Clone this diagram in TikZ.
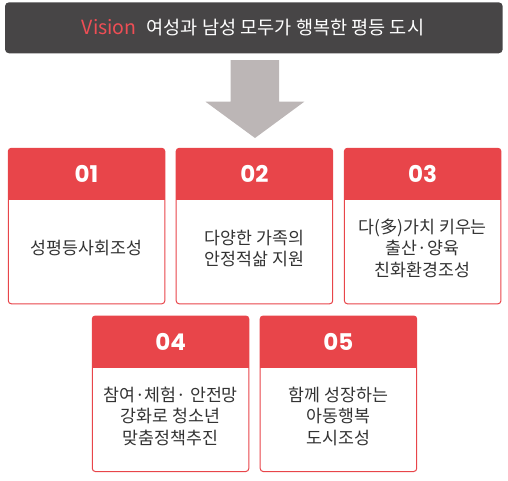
\documentclass[tikz,border=0pt]{standalone}
\usepackage{fontspec}
\setmainfont{Noto Sans CJK KR}
\newfontfamily\numfont{Poppins}
\definecolor{cardred}{HTML}{E8454A}
\definecolor{bannergray}{HTML}{474546}
\definecolor{arrowgray}{HTML}{BCB6B6}
\definecolor{textgray}{HTML}{333333}
\definecolor{visred}{HTML}{EE4E55}
\tikzset{
  banner/.style={fill=bannergray, rounded corners=4pt, inner sep=0pt, outer sep=0pt},
  card/.style={draw=cardred, line width=1pt, fill=white, rounded corners=3pt, inner sep=0pt, outer sep=0pt,
    anchor=north west, minimum width=156.5pt, minimum height=155.5pt},
  num/.style={text=white, font=\numfont\bfseries\fontsize{23}{23}\selectfont},
  body/.style={text=textgray, align=center, font=\fontsize{17.3}{21.5}\selectfont},
  bigarrow/.style={fill=arrowgray}
}
\newcommand\mycard[5]{%
  \node[card] (#1) at (#2,#3) {};
  \begin{scope}
    \clip[rounded corners=3pt] (#1.north west) rectangle (#1.south east);
    \fill[cardred] (#1.north west) rectangle ([yshift=-52pt]#1.north east);
  \end{scope}
  \node[num] (#1n) at ([yshift=-26pt]#1.north) {#4};
  \node[body] (#1t) at ([yshift=-100pt]#1.north) {#5};
}
\begin{document}
\begin{tikzpicture}[x=1pt,y=-1pt]
\useasboundingbox (0,0) rectangle (508,480);
\node[banner, minimum width=497.7pt, minimum height=51pt, anchor=north west] (ban) at (5,2.3) {};
\node[font=\fontsize{18.6}{18.6}\selectfont] (vis) at (253,28) {{\color{visred}\fontsize{19.5}{19.5}\selectfont Vision}\hspace{10pt}{\color{white}여성과 남성 모두가 행복한 평등 도시}};
\fill[bigarrow] (230.7,60) -- (279,60) -- (279,101.7) -- (304.3,101.7) -- (255,138) -- (205.5,101.7) -- (230.7,101.7) -- cycle;
\mycard{c1}{8.3}{148.3}{01}{성평등사회조성}
\mycard{c2}{176.2}{148.3}{02}{다양한 가족의\\안정적삶 지원}
\mycard{c3}{344.4}{148.3}{03}{다(多)가치 키우는\\출산·양육\\친화환경조성}
\mycard{c4}{92.3}{316}{04}{참여·체험· 안전망\\강화로 청소년\\맞춤정책추진}
\mycard{c5}{260.2}{316}{05}{함께 성장하는\\아동행복\\도시조성}
\end{tikzpicture}
\end{document}
